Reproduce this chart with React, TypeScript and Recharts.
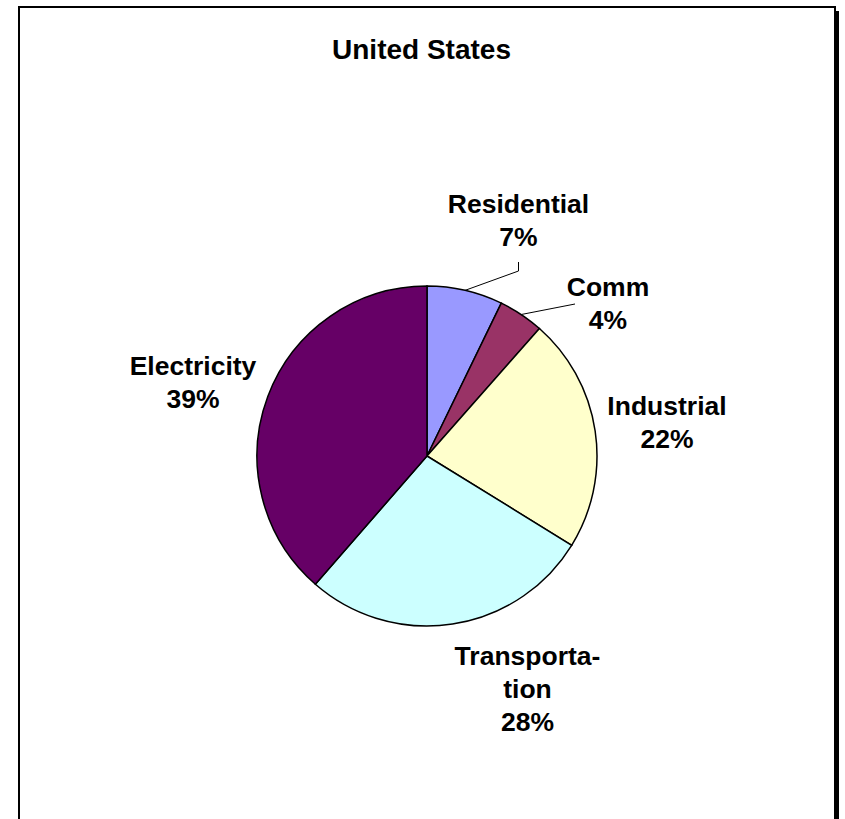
import { PieChart, Pie, Cell } from "recharts";

const SECTORS = ["Residential", "Comm", "Industrial", "Transportation", "Electricity"];
const SHARES = [7.2, 4.3, 22.3, 27.6, 38.6];
const LABEL_LINES = [["Residential"], ["Comm"], ["Industrial"], ["Transporta-", "tion"], ["Electricity"]];
const COLORS = ["#9999FF", "#993366", "#FFFFCC", "#CCFFFF", "#660066"];

// label anchor (centre x, first baseline) relative to the pie centre
const LABEL_POS = [
  [91.5, -243],
  [181, -160],
  [240, -41],
  [100.5, 209],
  [-234, -81],
];
// leader line end points relative to the label anchor
const LEADERS: (number[][] | null)[] = [
  [[0, 58], [0, 49]],
  [[-33, 8]],
  null,
  null,
  null,
];

const FONT = "'Liberation Sans', Arial, sans-serif";
const RAD = Math.PI / 180;

const data = SECTORS.map((name, i) => ({ name, value: SHARES[i] }));

function Label(props: any) {
  const { cx, cy, index, percent } = props;
  const [dx, dy] = LABEL_POS[index];
  const x = cx + dx;
  const y = cy + dy;
  const lines = [...LABEL_LINES[index], `${Math.round(percent * 100)}%`];
  return (
    <text
      x={x}
      y={y}
      textAnchor="middle"
      fontFamily={FONT}
      fontWeight={700}
      fontSize={26.5}
      fill="#000"
    >
      {lines.map((l, k) => (
        <tspan key={k} x={x} y={y + k * 33}>
          {l}
        </tspan>
      ))}
    </text>
  );
}

function Leader(props: any) {
  const { cx, cy, index, midAngle, outerRadius } = props;
  const pts = LEADERS[index];
  if (!pts) return null;
  const sx = cx + outerRadius * Math.cos(-midAngle * RAD);
  const sy = cy + outerRadius * Math.sin(-midAngle * RAD);
  const [dx, dy] = LABEL_POS[index];
  const path = [[sx, sy], ...pts.map(([px, py]) => [cx + dx + px, cy + dy + py])]
    .map((p) => p.join(","))
    .join(" ");
  return <polyline points={path} fill="none" stroke="#000" strokeWidth={1} />;
}

export default function App() {
  return (
    <div
      style={{
        position: "fixed",
        left: 0,
        top: 0,
        width: 845,
        height: 819,
        overflow: "hidden",
        background: "#fff",
      }}
    >
      <div
        style={{
          position: "absolute",
          left: 18,
          top: 6,
          width: 814,
          height: 900,
          border: "2px solid #000",
          boxShadow: "3px 5px 0 #000",
        }}
      />
      <div style={{ position: "absolute", left: 0, top: 0 }}>
        <PieChart width={845} height={819} margin={{ top: 0, right: 0, bottom: 0, left: 0 }}>
          <text
            x={421.5}
            y={59}
            textAnchor="middle"
            fontFamily={FONT}
            fontWeight={700}
            fontSize={28}
            fill="#000"
          >
            United States
          </text>
          <Pie
            data={data}
            dataKey="value"
            nameKey="name"
            cx={427}
            cy={456}
            outerRadius={170}
            startAngle={90}
            endAngle={-270}
            stroke="#000"
            strokeWidth={1.5}
            label={<Label />}
            labelLine={<Leader />}
            isAnimationActive={false}
          >
            {data.map((d, i) => (
              <Cell key={d.name} fill={COLORS[i]} />
            ))}
          </Pie>
        </PieChart>
      </div>
    </div>
  );
}
